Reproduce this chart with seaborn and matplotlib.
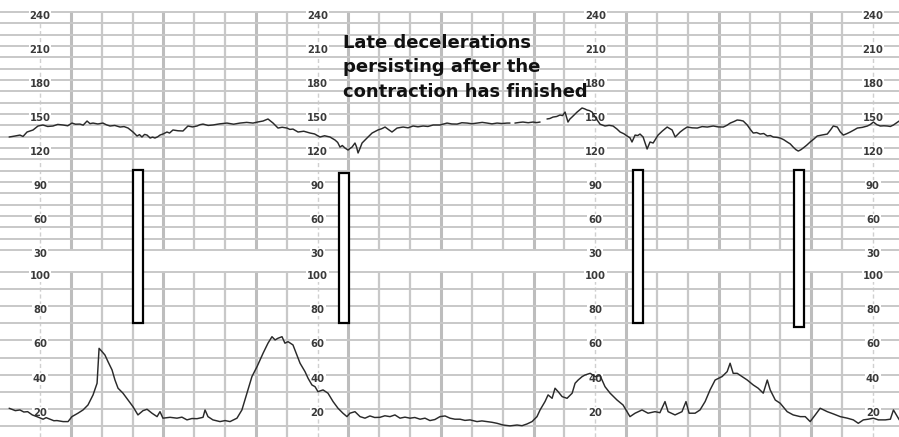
import numpy as np
import pandas as pd
import matplotlib
matplotlib.use("Agg")
import matplotlib.pyplot as plt
from matplotlib.patches import Rectangle
from matplotlib.transforms import offset_copy
import seaborn as sns

# ---- fetal heart rate trace (time in seconds, bpm); NaN marks signal loss ----
fhr_time = [0, 3.5, 7, 9, 11.6, 15.5, 18.7, 21.9, 25, 28.4, 31.5, 34.9, 38, 40.7, 43, 45.9, 48,
            50.5, 52.4, 54.4, 57.5, 60.8, 63, 65.4, 68.5, 71.9, 74.5, 77.1, 80.3, 82.9, 84.5,
            86.1, 87.8, 89.4, 91.4, 93, 94.5, 96.2, 97.8, 100, 102.3, 104, 106.2, 109.5, 112.7,
            115.9, 118.8, 121.8, 123.8, 125.7, 129, 132.1, 136.5, 141.2, 145.5, 149.7, 154,
            158.1, 161, 164.6, 167.8, 171.1, 174.3, 177, 180.1, 182, 184.0, 187.3, 191, 195.1,
            198, 201.5, 204.5, 208.0, 211.3, 213, 214.5, 216, 217.7, 219.7, 221, 222.3, 224.2,
            225.2, 226.2, 227.5, 228.8, 232.0, 235.3, 239.1, 241.5, 243.7, 246, 248.2, 251.5,
            255.4, 258.6, 261.9, 265, 268.4, 271.5, 274.9, 279.3, 283.9, 287, 290.4, 293.5,
            296.9, 300, 303.4, 306.7, 309.9, 313, 316.3, 319.5, 322.8, 324.7, 326, 327.9, 331,
            333.1, 336.5, 339.6, 342, 344.2, 346, 348.7, 350.5, 352.6, 355, 357.1, 358.8, 360.4,
            362.3, 363.5, 364.9, 368.2, 371.4, 373, 374.7, 376.2, 377.9, 381.2, 383.1, 386.3,
            389, 391.5, 394, 396.1, 398.5, 400.6, 402.5, 403.8, 405.8, 407.5, 409.0, 411.0,
            413.6, 415.5, 417.5, 420.7, 423.5, 426.6, 429.8, 431.8, 435.0, 437.3, 439.6, 442.8,
            446.1, 449.3, 452.6, 456.5, 459.7, 463.0, 465.3, 467.5, 470, 472.0, 474, 475.9,
            478.5, 480.5, 482.4, 484.6, 486.9, 489.2, 491.5, 493.5, 495.4, 497.7, 499.9, 502.2,
            504.4, 506.4, 508.3, 510, 511.6, 513.2, 514.8, 517, 519.3, 521.6, 523.9, 527.1,
            530.4, 532.3, 534.3, 536.9, 538.8, 540.8, 543, 545.3, 547.6, 549.9, 553.1, 556.4,
            558.4, 560.3, 562.5, 564.8, 567.1, 569.4, 571.3, 573.3, 577.0]
fhr_bpm = [129.7, 130.5, 131.4, 130.2, 134.1, 135.9, 139.4, 140.3, 139.0, 139.4, 140.8, 140.3,
           139.6, 142.0, 141.0, 141.1, 140.2, 143.8, 141.5, 142.0, 141.2, 142.0, 140.5, 139.4,
           139.9, 138.5, 138.9, 137.6, 134.1, 130.6, 131.8, 129.7, 132.0, 131.4, 128.8, 129.6,
           128.8, 129.8, 131.4, 132.5, 134.1, 133.2, 135.9, 135.2, 135.0, 139.4, 138.6, 139.4,
           140.6, 141.1, 139.9, 140.3, 141.3, 142.0, 141.0, 142.0, 142.6, 142.0, 142.9, 143.8,
           145.6, 142.0, 137.6, 138.3, 137.6, 136.4, 136.7, 134.1, 134.8, 133.2, 132.4, 129.7,
           130.8, 129.7, 127.0, 124.9, 120.8, 122.2, 120.0, 118.2, 119.6, 120.8, 124.4, 121.0,
           115.6, 119.8, 124.4, 128.8, 133.2, 135.9, 137.0, 138.5, 136.2, 134.1, 137.6, 138.5,
           137.8, 139.4, 138.7, 139.4, 139.0, 140.3, 140.3, 142.0, 141.2, 141.1, 142.3, 142.0,
           141.4, 142.0, 142.6, 142.0, 141.3, 142.0, 141.6, 142.0, 142.0, np.nan, 142.0, 142.6,
           142.9, 142.3, 142.9, 142.4, 142.9, np.nan, 145.6, 146.0, 147.3, 147.8, 149.1, 148.6,
           151.7, 142.9, 145.5, 147.3, 151.7, 155.3, 154.6, 153.5, 153.0, 151.7, 144.7, 141.0,
           139.4, 140.0, 139.4, 136.8, 134.1, 132.6, 130.6, 129.0, 125.3, 131.4, 131.0, 132.3,
           129.7, 119.1, 125.3, 124.4, 131.4, 135.0, 138.5, 135.9, 129.7, 134.1, 136.5, 138.5,
           137.8, 137.6, 138.9, 138.5, 139.4, 138.6, 138.5, 140.0, 142.0, 143.4, 144.7, 144.4,
           143.8, 140.3, 136.4, 133.2, 133.6, 132.3, 132.8, 130.6, 131.0, 129.7, 129.4, 128.8,
           127.3, 125.3, 123.6, 120.8, 118.6, 117.3, 118.4, 120.0, 122.4, 125.3, 127.8, 130.6,
           131.5, 132.3, 135.6, 139.4, 138.5, 134.2, 131.4, 132.6, 134.1, 135.8, 137.6, 138.2,
           139.4, 140.8, 142.9, 140.6, 139.4, 139.6, 139.4, 139.0, 140.3, 143.8]

# ---- uterine contraction trace (time in seconds, pressure units) ----
uc_time = [0, 4, 7, 9.5, 12, 15, 18, 22, 24, 26.5, 29, 31, 35, 38.2, 40.7, 44.6, 47.9, 51.1,
           54.4, 57.0, 57.6, 58.3, 60.2, 62.1, 64.1, 66.7, 68.6, 70.6, 73.8, 77.1, 80.3, 83.5,
           86.8, 89.4, 92.6, 95.9, 97.8, 99.7, 104.3, 108.8, 112, 115.3, 118.5, 121.8, 125.7,
           127.0, 128.9, 132.1, 136.7, 140, 143.2, 147.7, 150.9, 154.2, 157.4, 160.7, 164.6,
           167.8, 170.4, 172.4, 174.3, 176.9, 178.8, 180.8, 184.0, 187.3, 188.6, 191.8, 193.8,
           196.3, 198.3, 200.2, 203.5, 206.7, 210.0, 213.2, 216.4, 219.0, 220.9, 224.2, 227.5,
           230.7, 233.9, 237, 240.4, 243.6, 246.9, 250.1, 253.4, 256.6, 259.9, 263, 266.4,
           269.6, 272.8, 276, 279.3, 282.6, 285.8, 289, 292.3, 295.5, 298.8, 303.3, 306.5,
           309.8, 313, 316.3, 320.2, 324.7, 329.3, 332.5, 335.7, 339.0, 342.2, 344.2, 347.4,
           349.4, 352.0, 353.9, 355.9, 358.5, 361.7, 365.0, 366.9, 368.9, 371.5, 373.3, 376.7,
           379.9, 383.1, 386.3, 389.6, 394.1, 398.0, 402.5, 405.8, 410.3, 414.2, 418.7, 421.9,
           425.2, 427.2, 431.7, 436.2, 438.8, 440.8, 444.7, 447.9, 451.2, 454.4, 457.7, 462.2,
           465.5, 467.4, 469.4, 472.0, 475.2, 478.5, 482.4, 485.6, 488.9, 491.5, 493.4, 496.7,
           499.9, 504.4, 508.3, 512.9, 516.1, 519.3, 522.6, 525.8, 530.4, 534.3, 538.8, 543.4,
           547.3, 550.5, 553.8, 557.0, 560.3, 563.5, 568.0, 571.3, 573.3, 575.8, 577.1]
uc_value = [20.4, 19.0, 19.4, 18.2, 18.4, 16.5, 15.5, 14.0, 14.9, 14.0, 13.1, 13.2, 12.6, 12.6,
            15.5, 17.5, 19.4, 22.3, 28.2, 35.0, 44.7, 55.4, 53.5, 51.5, 47.6, 42.8, 36.9, 32.1,
            29.2, 25.2, 21.3, 16.5, 19.0, 19.8, 17.5, 15.5, 18.4, 14.6, 15.1, 14.6, 15.2, 13.6,
            14.4, 14.3, 15.1, 19.4, 15.5, 13.6, 12.6, 13.2, 12.6, 14.6, 19.4, 29.2, 38.9, 44.7,
            52.5, 58.4, 62.2, 60.3, 61.3, 62.2, 58.4, 59.3, 57.4, 49.6, 46.7, 41.8, 37.9, 34.0,
            33.0, 30.1, 31.1, 29.2, 24.3, 20.4, 17.5, 15.5, 17.5, 18.4, 15.5, 14.6, 15.9, 15.0,
            15.1, 16.0, 15.5, 16.5, 14.6, 15.2, 14.6, 15.0, 14.0, 14.6, 13.2, 13.8, 15.5, 15.9,
            14.6, 14.0, 14.0, 13.3, 13.6, 12.6, 13.0, 12.6, 12.2, 11.6, 10.6, 10.1, 10.6, 10.2,
            11.2, 12.6, 15.5, 19.4, 24.3, 28.2, 26.2, 32.1, 30.1, 27.2, 26.2, 29.2, 35.0, 36.9,
            38.9, 39.8, 40.8, 38.9, 39.5, 33.0, 29.2, 25.2, 22.3, 15.5, 17.5, 19.4, 17.5, 18.4,
            17.8, 24.3, 18.4, 16.5, 18.4, 24.3, 17.5, 17.5, 19.4, 24.3, 31.1, 36.9, 38.9, 41.8,
            46.7, 40.8, 40.8, 38.9, 36.9, 34.0, 32.1, 29.2, 36.9, 31.1, 25.2, 23.3, 18.4, 16.5,
            15.5, 15.5, 12.6, 16.5, 20.4, 18.4, 17.1, 15.5, 14.6, 13.6, 11.6, 13.6, 14.0, 14.6,
            13.6, 13.6, 14.0, 19.4, 15.5, 13.6]

fhr_ticks = [30, 60, 90, 120, 150, 180, 210, 240]
uc_ticks = [20, 40, 60, 80, 100]
label_columns = [20, 200, 380, 560]

note_lines = ["Late decelerations", "persisting after the", "contraction has finished"]

sns.set_style("white")

W, H = 899, 437
fig = plt.figure(figsize=(W / 100, H / 100), dpi=100)
fig.patch.set_facecolor("white")

X0, X1 = -5.93, 576.9
ax_top = fig.add_axes([0, 1 - 250 / H, 1, 238 / H])
ax_bot = fig.add_axes([0, 0, 1, 1 - 272 / H])
ax_top.set_ylim(30, 240)
ax_bot.set_ylim(3.6, 100)

grid_col = "#c8c8c8"
for ax in (ax_top, ax_bot):
    ax.set_xlim(X0, X1)
    ax.set_axis_off()
    # vertical chart-paper lines every 20 s, heavier each minute
    for k in range(28):
        t = 20 * (k + 1)
        if k % 9 == 0:
            ax.axvline(t, color="#d0d0d0", lw=1.0, ls=(0, (3, 2)), zorder=1)
        elif k % 3 == 1:
            ax.axvline(t, color="#bdbdbd", lw=2.2, zorder=1)
        else:
            ax.axvline(t, color=grid_col, lw=1.6, zorder=1)

for v in range(30, 241, 10):
    ax_top.axhline(v, color=grid_col, lw=1.4, zorder=1, clip_on=False)
for v in range(10, 101, 10):
    ax_bot.axhline(v, color=grid_col, lw=1.4, zorder=1, clip_on=False)

# scale labels repeated along the strip
lab_kw = dict(ha="center", va="center", fontsize=8, fontweight="bold",
              color="#3a3a3a", fontfamily=["Liberation Sans Narrow", "DejaVu Sans"],
              fontstretch="condensed", zorder=3,
              bbox=dict(boxstyle="square,pad=0.08", fc="white", ec="none"))
for ax, ticks in ((ax_top, fhr_ticks), (ax_bot, uc_ticks)):
    tr = offset_copy(ax.transData, fig=fig, x=0, y=-4, units="dots")
    for c in label_columns:
        for v in ticks:
            ax.text(c, v, str(v), transform=tr, **lab_kw)

# traces
fhr = pd.DataFrame({"t": fhr_time, "bpm": fhr_bpm})
fhr["seg"] = fhr["bpm"].isna().cumsum()
fhr = fhr.dropna()
sns.lineplot(data=fhr, x="t", y="bpm", units="seg", estimator=None, ax=ax_top,
             color="#2a2a2a", lw=1.05, zorder=4, legend=False)
ax_top.set_axis_off()

uc = pd.DataFrame({"t": uc_time, "uc": uc_value})
sns.lineplot(data=uc, x="t", y="uc", estimator=None, ax=ax_bot,
             color="#2a2a2a", lw=1.05, zorder=4, legend=False)
ax_bot.set_axis_off()

# markers spanning both channels
for (x, y, w, h) in [(133, 170, 10, 153), (339, 173, 10, 150),
                     (633, 170, 10, 153), (794, 170, 10, 157)]:
    fig.add_artist(Rectangle((x / W, 1 - (y + h) / H), w / W, h / H,
                             transform=fig.transFigure, fc="white", ec="black",
                             lw=1.6, zorder=10))

for i, line in enumerate(note_lines):
    fig.text(343 / W, 1 - (48 + 24.5 * i) / H, line, ha="left", va="baseline",
             fontsize=13, fontweight="bold", color="#111111",
             fontfamily=["DejaVu Sans"], zorder=11)

fig.savefig("out.png", dpi=100, facecolor="white")
